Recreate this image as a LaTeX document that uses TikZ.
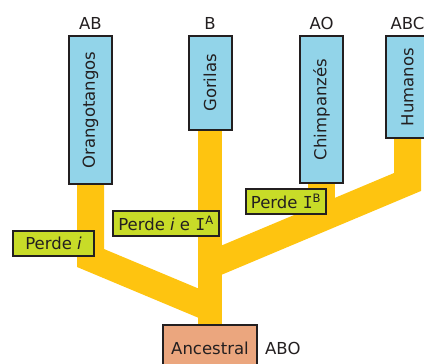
\documentclass[tikz,border=0pt]{standalone}
\usepackage{fontspec}
\setmainfont{DejaVu Sans}
\newfontfamily\allelefont{DejaVu Sans Mono}
\usetikzlibrary{backgrounds}

\definecolor{inkdark}{RGB}{35,31,32}
\definecolor{speciesblue}{RGB}{146,212,233}
\definecolor{lossgreen}{RGB}{200,220,40}
\definecolor{ancestorsalmon}{RGB}{235,166,126}
\definecolor{branchyellow}{RGB}{254,196,16}

\newcommand{\allele}[1]{{\allelefont I}\textsuperscript{#1}}

\begin{document}
\begin{tikzpicture}[
  x = 1pt, y = -1pt,
  font = \fontsize{16.5}{20}\selectfont,
  text = inkdark,
  % Boxes: species on top, losses on the branches, the ancestor at the root.
  species/.style  = {draw=inkdark, line width=2pt, fill=speciesblue,
                     minimum width=43pt, inner sep=0pt, anchor=north},
  loss/.style     = {draw=inkdark, line width=2pt, fill=lossgreen,
                     minimum height=25pt, inner sep=0pt},
  ancestor/.style = {draw=inkdark, line width=2pt, fill=ancestorsalmon,
                     minimum width=94pt, minimum height=46pt, inner sep=0pt,
                     anchor=north},
  bloodtype/.style = {inner sep=0pt},
  branch/.style   = {draw=branchyellow, line width=27pt, line join=miter},
]
\useasboundingbox (0, 0) rectangle (424, 364);

% --- species, with their blood types above
\node[species, minimum height=148pt] (orang) at (90.5, 35) {\rotatebox{90}{Orangotangos}};
\node[species, minimum height=94pt]  (gor)   at (210, 35)  {\rotatebox{90}{Gorilas}};
\node[species, minimum height=147pt] (chim)  at (321.5, 35) {\rotatebox{90}{Chimpanzés}};
\node[species, minimum height=102pt] (hum)   at (407.5, 35) {\rotatebox{90}{Humanos}};
\node[bloodtype] (abOrang) at (90.5, 23)  {AB};
\node[bloodtype] (abGor)   at (210, 23)   {B};
\node[bloodtype] (abChim)  at (321.5, 23) {AO};
\node[bloodtype] (abHum)   at (407.5, 23) {ABC};

% --- root
\node[ancestor] (anc) at (210, 324) {Ancestral};
\node[bloodtype, anchor=west] (abAnc) at (265, 348) {ABO};

% --- allele losses on the branches
\node[loss, minimum width=81pt]  (lossI)  at (53.5, 243.5) {Perde \textit{i}};
\node[loss, minimum width=106pt] (lossIA) at (166, 223.5)  {Perde \textit{i} e \allele{A}};
\node[loss, minimum width=80pt]  (lossIB) at (286, 201.5)  {Perde \allele{B}};

% --- the tree, under everything
\coordinate (leftJoin)  at (210, 308);
\coordinate (rightJoin) at (210, 265);
\begin{pgfonlayer}{background}
\draw[branch, line width=24pt] (gor.south) -- (anc.north);
\draw[branch] (orang.south) -- ++(0, 73) -- (leftJoin);
\draw[branch] (hum.south) -- ++(0, 43) -- (rightJoin);
\draw[branch] (chim.south) -- ++(0, 36);
\end{pgfonlayer}

\end{tikzpicture}
\end{document}
